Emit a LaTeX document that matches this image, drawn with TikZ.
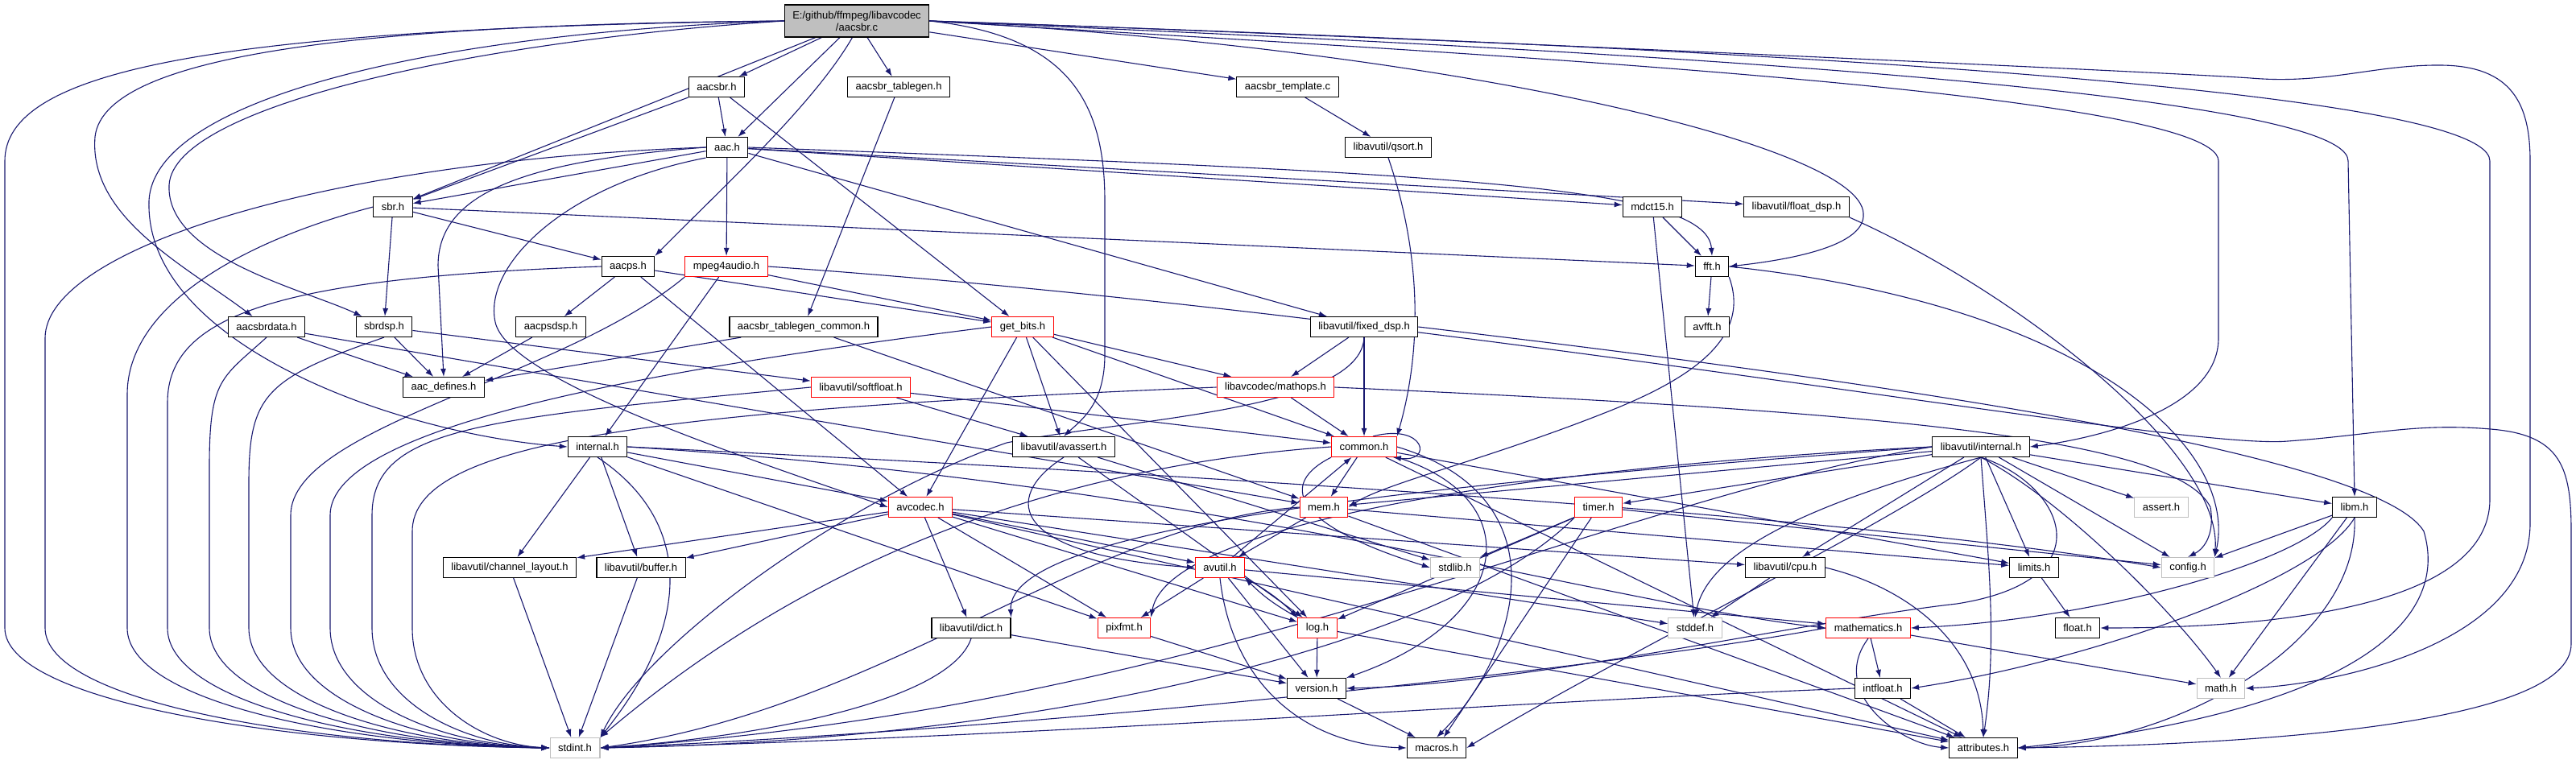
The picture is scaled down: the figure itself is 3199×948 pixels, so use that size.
\documentclass[tikz,border=0pt]{standalone}
\usepackage{fontspec}
\setmainfont{Liberation Sans}
\usetikzlibrary{arrows.meta}
\definecolor{edgeblue}{HTML}{191970}
\definecolor{rootgray}{HTML}{BFBFBF}
\definecolor{sysgray}{HTML}{BFBFBF}
\pgfdeclarelayer{bg}
\pgfsetlayers{bg,main}

\begin{document}
\begin{tikzpicture}[x=1pt,y=-1pt,
  hdr/.style={draw=black,fill=white,line width=1.1pt,minimum height=25pt,
    inner xsep=10pt,inner ysep=0pt,font=\fontsize{13}{15}\selectfont},
  redhdr/.style={hdr,draw=red},
  syshdr/.style={hdr,draw=sysgray},
  incl/.style={draw=edgeblue,line width=1.1pt,-{Latex[length=10pt,width=7pt]}}]
\useasboundingbox (0,0) rectangle (3199,948);
% headers, top to bottom
\node[hdr,fill=rootgray,align=center,minimum height=40pt] (root) at (1064,26) {E:/github/ffmpeg/libavcodec\\/aacsbr.c};
\node[hdr] (aacsbrh) at (890,108) {aacsbr.h};
\node[hdr] (tablegen) at (1116,108) {aacsbr\_tablegen.h};
\node[hdr] (template) at (1599,108) {aacsbr\_template.c};
\node[hdr] (aach) at (903,183) {aac.h};
\node[hdr] (qsort) at (1724,183) {libavutil/qsort.h};
\node[hdr] (sbrh) at (488,257) {sbr.h};
\node[hdr] (mdct) at (2052,257) {mdct15.h};
\node[hdr] (floatdsp) at (2231,257) {libavutil/float\_dsp.h};
\node[hdr] (aacps) at (780,331) {aacps.h};
\node[redhdr] (mpeg4) at (902,331) {mpeg4audio.h};
\node[hdr] (fft) at (2126,331) {fft.h};
\node[hdr] (aacsbrdata) at (331,406) {aacsbrdata.h};
\node[hdr] (sbrdsp) at (477,406) {sbrdsp.h};
\node[hdr] (aacpsdsp) at (684,406) {aacpsdsp.h};
\node[hdr] (tgcommon) at (998,406) {aacsbr\_tablegen\_common.h};
\node[redhdr] (getbits) at (1270,406) {get\_bits.h};
\node[hdr] (fixeddsp) at (1694,406) {libavutil/fixed\_dsp.h};
\node[hdr] (avfft) at (2120,406) {avfft.h};
\node[hdr] (aacdefines) at (551,481) {aac\_defines.h};
\node[redhdr] (softfloat) at (1069,481) {libavutil/softfloat.h};
\node[redhdr] (mathops) at (1584,481) {libavcodec/mathops.h};
\node[hdr] (internal) at (742,555) {internal.h};
\node[hdr] (avassert) at (1321,555) {libavutil/avassert.h};
\node[redhdr] (common) at (1694,555) {common.h};
\node[hdr] (lavuinternal) at (2460,555) {libavutil/internal.h};
\node[redhdr] (avcodec) at (1143,630) {avcodec.h};
\node[redhdr] (mem) at (1644,630) {mem.h};
\node[redhdr] (timer) at (1985,630) {timer.h};
\node[syshdr] (assert) at (2684,630) {assert.h};
\node[hdr] (libm) at (2924,630) {libm.h};
\node[hdr] (chlayout) at (633,705) {libavutil/channel\_layout.h};
\node[hdr] (buffer) at (796,705) {libavutil/buffer.h};
\node[redhdr] (avutil) at (1515,705) {avutil.h};
\node[syshdr] (stdlib) at (1807,705) {stdlib.h};
\node[hdr] (cpu) at (2217,705) {libavutil/cpu.h};
\node[hdr] (limits) at (2526,705) {limits.h};
\node[syshdr] (config) at (2717,705) {config.h};
\node[hdr] (dict) at (1206,780) {libavutil/dict.h};
\node[redhdr] (pixfmt) at (1396,780) {pixfmt.h};
\node[redhdr] (log) at (1636,780) {log.h};
\node[syshdr] (stddef) at (2105,780) {stddef.h};
\node[redhdr] (mathematics) at (2320,780) {mathematics.h};
\node[hdr] (float) at (2580,780) {float.h};
\node[hdr] (version) at (1635,855) {version.h};
\node[hdr] (intfloat) at (2338,855) {intfloat.h};
\node[syshdr] (math) at (2758,855) {math.h};
\node[syshdr] (stdint) at (714,929) {stdint.h};
\node[hdr] (macros) at (1784,929) {macros.h};
\node[hdr] (attributes) at (2463,929) {attributes.h};

\begin{pgfonlayer}{bg}
\fill[white] (0,0) rectangle (3199,948);
% direct includes
\foreach \a/\b in {root/sbrh, root/aacsbrh, root/aach, root/tablegen, root/template,
  aacsbrh/sbrh, aacsbrh/aach, aacsbrh/getbits, tablegen/tgcommon, template/qsort,
  aach/sbrh, aach/mpeg4, aach/mdct, aach/fixeddsp, aach/floatdsp,
  sbrh/aacps, sbrh/sbrdsp, sbrh/fft, mdct/fft, mdct/stddef, fft/avfft,
  aacps/aacpsdsp, aacps/avcodec, aacps/getbits, mpeg4/getbits, mpeg4/internal,
  aacsbrdata/aacdefines, aacsbrdata/mem, sbrdsp/aacdefines, sbrdsp/softfloat,
  aacpsdsp/aacdefines, tgcommon/aacdefines, tgcommon/mem,
  getbits/avcodec, getbits/avassert, getbits/mathops, getbits/common, getbits/log,
  fixeddsp/mathops, fixeddsp/common, softfloat/common, softfloat/avassert, mathops/common,
  internal/chlayout, internal/buffer, internal/avcodec, internal/pixfmt,
  avcodec/chlayout, avcodec/buffer, avcodec/dict, avcodec/pixfmt, avcodec/log,
  avcodec/avutil, avcodec/cpu, avcodec/stddef, avcodec/attributes,
  avassert/log, avassert/stdlib, common/mem, common/limits, common/attributes,
  mem/avutil, mem/limits, mem/attributes,
  timer/stdlib, timer/log, timer/config, timer/macros,
  lavuinternal/mem, lavuinternal/timer, lavuinternal/cpu,
  lavuinternal/limits, lavuinternal/config, lavuinternal/assert, lavuinternal/libm,
  libm/config, libm/math, avutil/common, avutil/pixfmt, avutil/version, avutil/mathematics,
  log/version, log/attributes, pixfmt/version, dict/version, version/macros,
  cpu/stddef, limits/float, mathematics/intfloat, mathematics/math, intfloat/attributes,
  chlayout/stdint, buffer/stdint}
  \draw[incl] (\a) -- (\b);
% long runs down the left side into stdint.h
\foreach \s/\cx/\cy/\x/\y in {root.west/250/35/6/200, aach.west/400/200/56/420,
  sbrh.west/300/300/158/490, aacps.west/350/345/208/500, aacsbrdata.south/275/470/260/580,
  sbrdsp.south/330/470/309/600, mpeg4.south west/700/470/361/640,
  getbits.west/800/460/410/640, softfloat.west/600/520/462/640, mathops.west/800/510/512/660}
  \draw[incl] (\s) .. controls (\cx,\cy) and (\x,\y-110) .. (\x,\y) -- (\x,780)
    .. controls (\x,870) and ({(\x+682)/2},925) .. (stdint.west);
\draw[incl] (internal.south) .. controls (850,640) and (870,760) .. (stdint.north east);
\draw[incl] (dict.south) .. controls (1180,870) and (950,915) .. (stdint.east);
\draw[incl] (common.west) .. controls (1300,580) and (1000,700) .. (stdint.north east);
\draw[incl] (mem.west) .. controls (1350,650) and (1100,880) .. (stdint.east);
\draw[incl] (timer.south west) .. controls (1800,800) and (1300,920) .. (stdint.east);
\draw[incl] (lavuinternal.west) .. controls (2000,620) and (1500,880) .. (stdint.east);
\draw[incl] (mathematics.west) .. controls (2000,830) and (1300,905) .. (stdint.east);
\draw[incl] (intfloat.west) .. controls (1900,870) and (1300,915) .. (stdint.east);
\draw[incl] (fixeddsp.south) .. controls (1690,510) and (1400,520) .. (1250,550) .. controls (1050,620) and (800,800) .. (stdint.north east);
% root, other long curves
\draw[incl] (root.255) .. controls (1010,130) and (900,230) .. (aacps.north east);
\draw[incl] (root.west) .. controls (500,30) and (130,60) .. (118,170) .. controls (110,270) and (230,330) .. (aacsbrdata);
\draw[incl] (root.west) .. controls (550,40) and (190,120) .. (185,250) .. controls (180,430) and (500,540) .. (internal.west);
\draw[incl] (root.west) .. controls (600,50) and (215,130) .. (210,230) .. controls (206,320) and (380,360) .. (sbrdsp);
\draw[incl] (root.east) .. controls (1330,45) and (1372,130) .. (1372,250) -- (1372,440) .. controls (1372,500) and (1345,520) .. (avassert.north);
\draw[incl] (root.east) .. controls (1800,60) and (2310,180) .. (2314,265) .. controls (2318,310) and (2200,325) .. (fft.east);
\draw[incl] (root.east) .. controls (1700,60) and (2755,110) .. (2755,200) -- (2755,420) .. controls (2755,510) and (2600,545) .. (lavuinternal.east);
\draw[incl] (root.east) .. controls (1700,50) and (2916,100) .. (2916,200) -- (libm.north);
\draw[incl] (root.east) .. controls (1700,45) and (3092,90) .. (3092,200) -- (3092,620) .. controls (3092,760) and (2800,780) .. (float.east);
\draw[incl] (root.east) .. controls (1600,40) and (2700,90) .. (2795,97) .. controls (2890,105) and (2950,80) .. (3032,81)
  .. controls (3120,82) and (3142,130) .. (3142,200) -- (3142,650) .. controls (3142,800) and (2900,850) .. (math.east);
\draw[incl] (mpeg4.east) .. controls (1800,390) and (2700,560) .. (2841,548) .. controls (2950,540) and (3000,525) .. (3093,533)
  .. controls (3180,540) and (3193,580) .. (3193,660) -- (3193,800) .. controls (3193,900) and (2800,925) .. (attributes.east);
\draw[incl] (fixeddsp.east) .. controls (2300,470) and (2950,560) .. (3010,660) .. controls (3040,760) and (2950,880) .. (attributes.east);
\draw[incl] (mathops.east) .. controls (2300,510) and (2700,540) .. (2745,630) .. controls (2750,660) and (2740,680) .. (config.north);
\draw[incl] (floatdsp.south east) .. controls (2500,360) and (2760,560) .. (config.north east);
\draw[incl] (fft.east) .. controls (2600,380) and (2780,560) .. (config.north east);
\draw[incl] (fft.south east) .. controls (2175,420) and (2100,470) .. (2000,510) .. controls (1850,570) and (1720,600) .. (mem.east);
\draw[incl] (aach.east) .. controls (1800,215) and (2120,230) .. (fft.north);
\draw[incl] (qsort.south) .. controls (1760,300) and (1770,420) .. (common.north east);
\draw[incl] (aach.west) .. controls (650,200) and (544,240) .. (544,330) -- (aacdefines.north);
\draw[incl] (aach.south west) .. controls (700,230) and (600,330) .. (615,400) .. controls (630,470) and (900,560) .. (avcodec.west);
\draw[incl] (avassert.south) .. controls (1240,620) and (1260,690) .. (avutil.west);
\draw[incl] (common.50) .. controls (1770,525) and (1780,575) .. (common.-20);
\draw[incl] (common.south west) .. controls (1590,600) and (1600,650) .. (stdlib.west);
\draw[incl] (common.south east) .. controls (1900,620) and (1880,770) .. (version.north east);
\draw[incl] (common.east) .. controls (1950,620) and (1880,820) .. (macros.north);
\draw[incl] (log.north west) to[bend left=8] (avutil.south east);
\draw[incl] (avutil.south east) to[bend left=8] (log.north west);
\draw[incl] (avutil.south) .. controls (1530,850) and (1620,925) .. (macros.west);
\draw[incl] (lavuinternal.south) .. controls (2560,600) and (2620,720) .. (2430,750) .. controls (2250,770) and (1900,850) .. (version.east);
\draw[incl] (lavuinternal.south) .. controls (2350,650) and (2000,820) .. (macros.east);
\draw[incl] (lavuinternal.south) .. controls (2230,630) and (2120,690) .. (stddef.north);
\draw[incl] (lavuinternal.west) .. controls (1800,600) and (1250,650) .. (dict.north east);
\draw[incl] (lavuinternal.west) .. controls (1900,580) and (1450,650) .. (pixfmt.north east);
\draw[incl] (lavuinternal.south) .. controls (2560,620) and (2700,760) .. (math.north);
\draw[incl] (lavuinternal.south) .. controls (2470,700) and (2480,800) .. (attributes.north);
\draw[incl] (libm.south west) .. controls (2850,700) and (2600,770) .. (mathematics.east);
\draw[incl] (libm.south) .. controls (2880,720) and (2600,820) .. (intfloat.east);
\draw[incl] (libm.south) .. controls (2930,800) and (2700,925) .. (attributes.east);
\draw[incl] (cpu.east) .. controls (2370,730) and (2460,800) .. (attributes.north);
\draw[incl] (mathematics.south) .. controls (2270,860) and (2360,925) .. (attributes.west);
\draw[incl] (internal.east) .. controls (1500,600) and (2000,750) .. (mathematics.west);
\draw[incl] (internal.east) .. controls (1500,590) and (2300,640) .. (config.west);
\end{pgfonlayer}
\end{tikzpicture}
\end{document}
